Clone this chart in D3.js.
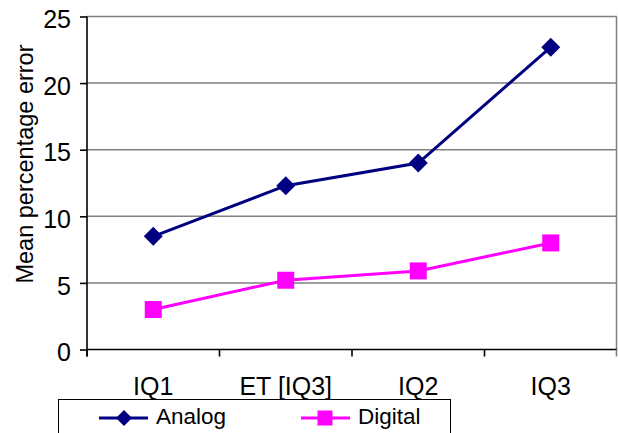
<!DOCTYPE html>
<html>
<head>
<meta charset="utf-8">
<script src="https://cdn.jsdelivr.net/npm/d3@7"></script>
<style>
  html, body { margin: 0; padding: 0; background: #fff; }
  svg { display: block; font-family: "Liberation Sans", Arial, sans-serif; }
</style>
</head>
<body>
<svg id="chart" width="618" height="433"></svg>
<script>
// Categories and series values
const categories = ["IQ1", "ET [IQ3]", "IQ2", "IQ3"];
const analog = [8.5, 12.3, 14.0, 22.7];
const digital = [3.0, 5.2, 5.9, 8.0];
const yTicks = [0, 5, 10, 15, 20, 25];
const seriesNames = ["Analog", "Digital"];

const svg = d3.select("#chart");
const plot = { left: 87, right: 617, top: 16.5, bottom: 349.5 };
const font = "'Liberation Sans', Arial, sans-serif";

const x = d3.scaleBand().domain(categories).range([plot.left, plot.right]).padding(0);
const y = d3.scaleLinear().domain([0, 25]).range([plot.bottom, plot.top]);
const cx = d => x(d) + x.bandwidth() / 2;

// Horizontal gridlines
svg.append("g")
  .selectAll("line")
  .data(yTicks.filter(t => t > 0))
  .join("line")
  .attr("x1", plot.left).attr("x2", plot.right)
  .attr("y1", d => y(d)).attr("y2", d => y(d))
  .attr("stroke", "#808080").attr("stroke-width", 1.5);

// Right frame edge
svg.append("line")
  .attr("x1", plot.right - 0.5).attr("x2", plot.right - 0.5)
  .attr("y1", y(25)).attr("y2", plot.bottom)
  .attr("stroke", "#808080").attr("stroke-width", 1.5);

// Y axis
const yAxis = svg.append("g")
  .attr("transform", `translate(${plot.left},0)`)
  .call(d3.axisLeft(y).tickValues(yTicks).tickSize(7).tickPadding(9).tickFormat(d3.format("d")));
yAxis.select(".domain").attr("stroke", "#000").attr("stroke-width", 1.6)
  .attr("d", `M0,${plot.bottom + 7}V${plot.top}`);
yAxis.selectAll(".tick line").attr("stroke", "#000").attr("stroke-width", 1.6);
yAxis.selectAll(".tick text")
  .attr("font-size", 25).attr("fill", "#000")
  .attr("font-family", font)
  .attr("dy", "0.45em");

// X axis
const xAxis = svg.append("g")
  .attr("transform", `translate(0,${plot.bottom})`)
  .call(d3.axisBottom(x).tickSize(0).tickPadding(0));
xAxis.select(".domain").attr("stroke", "#000").attr("stroke-width", 1.6)
  .attr("d", `M${plot.left},0H${plot.right}`);
xAxis.selectAll(".tick text")
  .attr("font-size", 25).attr("fill", "#000")
  .attr("font-family", font)
  .attr("dy", null).attr("y", 45);
// Category boundary tick marks
svg.append("g")
  .selectAll("line")
  .data(categories.concat([null]))
  .join("line")
  .attr("x1", d => d === null ? plot.right - 0.5 : x(d))
  .attr("x2", d => d === null ? plot.right - 0.5 : x(d))
  .attr("y1", plot.bottom).attr("y2", plot.bottom + 7)
  .attr("stroke", d => d === null ? "#808080" : "#000").attr("stroke-width", 1.6);

// Y axis title
svg.append("text")
  .attr("transform", `translate(33,164) rotate(-90)`)
  .attr("text-anchor", "middle")
  .attr("font-size", 23.5)
  .text("Mean percentage error");

// Series lines and markers
const line = d3.line().x((d, i) => cx(categories[i])).y(d => y(d));
const navy = "#000080", magenta = "#FF00FF";

svg.append("path").datum(analog)
  .attr("d", line).attr("fill", "none").attr("stroke", navy).attr("stroke-width", 3);
svg.append("path").datum(digital)
  .attr("d", line).attr("fill", "none").attr("stroke", magenta).attr("stroke-width", 3);

const diamond = r => `M0,${-r}L${r},0L0,${r}L${-r},0Z`;
svg.append("g").selectAll("path")
  .data(analog).join("path")
  .attr("transform", (d, i) => `translate(${cx(categories[i])},${y(d)})`)
  .attr("d", diamond(9.5)).attr("fill", navy);

const sq = 17;
svg.append("g").selectAll("rect")
  .data(digital).join("rect")
  .attr("x", (d, i) => cx(categories[i]) - sq / 2)
  .attr("y", d => y(d) - sq / 2)
  .attr("width", sq).attr("height", sq)
  .attr("fill", magenta);

// Legend
const legend = svg.append("g");
legend.append("rect")
  .attr("x", 58.5).attr("y", 399.5).attr("width", 392).attr("height", 60)
  .attr("fill", "#fff").attr("stroke", "#000").attr("stroke-width", 1);

const legendItems = [
  { name: seriesNames[0], color: navy, x0: 99, shape: "diamond" },
  { name: seriesNames[1], color: magenta, x0: 301, shape: "square" }
];
const ly = 418;
legendItems.forEach(it => {
  legend.append("line")
    .attr("x1", it.x0).attr("x2", it.x0 + 49)
    .attr("y1", ly).attr("y2", ly)
    .attr("stroke", it.color).attr("stroke-width", 3);
  if (it.shape === "diamond") {
    legend.append("path")
      .attr("transform", `translate(${it.x0 + 25},${ly})`)
      .attr("d", diamond(8)).attr("fill", it.color);
  } else {
    legend.append("rect")
      .attr("x", it.x0 + 24 - 7.5).attr("y", ly - 7.5)
      .attr("width", 15).attr("height", 15).attr("fill", it.color);
  }
  legend.append("text")
    .attr("x", it.x0 + 57).attr("y", ly + 6)
    .attr("font-size", 22.5)
    .text(it.name);
});
</script>
</body>
</html>
